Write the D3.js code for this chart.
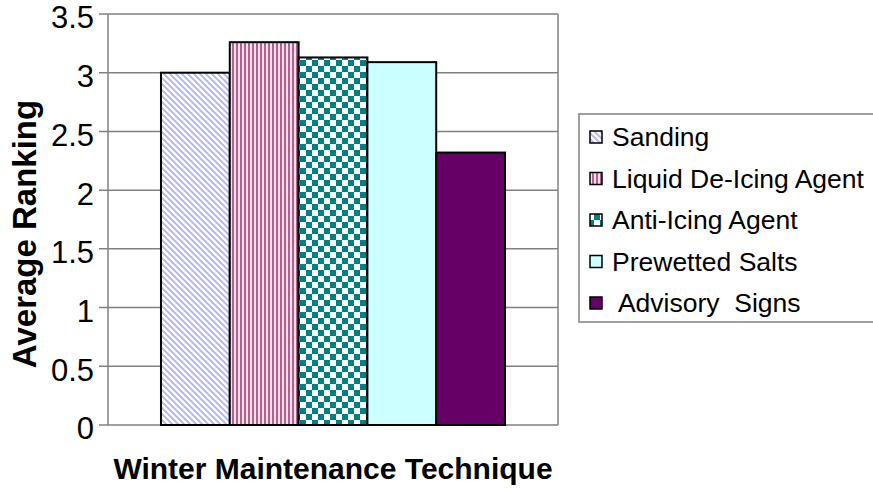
<!DOCTYPE html>
<html>
<head>
<meta charset="utf-8">
<script src="https://cdn.jsdelivr.net/npm/d3@7"></script>
<style>
  body { margin: 0; background: #fff; }
  text { font-family: Arial, "Liberation Sans", sans-serif; }
</style>
</head>
<body>
<div id="chart"></div>
<script>
// data
var categories = ["Sanding", "Liquid De-Icing Agent", "Anti-Icing Agent", "Prewetted Salts", " Advisory  Signs"];
var values = [3.0, 3.26, 3.13, 3.09, 2.32];
var yTicks = [0, 0.5, 1, 1.5, 2, 2.5, 3, 3.5];

var W = 873, H = 490;
var plot = {left: 108, right: 558, top: 14, bottom: 425};

var svg = d3.select("#chart").append("svg")
    .attr("width", W)
    .attr("height", H);

var defs = svg.append("defs");

// sanding - light blue diagonal hatch
var p0 = defs.append("pattern").attr("id", "pat0")
    .attr("patternUnits", "userSpaceOnUse").attr("width", 6).attr("height", 6);
p0.append("rect").attr("width", 6).attr("height", 6).attr("fill", "#fff");
p0.append("path").attr("d", "M-1,-1 L7,7 M-1,5 L1,7 M5,-1 L7,1")
    .attr("stroke", "#b0b0ff").attr("stroke-width", 1.8);

// liquid - vertical stripes
var p1 = defs.append("pattern").attr("id", "pat1")
    .attr("patternUnits", "userSpaceOnUse").attr("width", 4).attr("height", 4);
p1.append("rect").attr("width", 4).attr("height", 4).attr("fill", "#f5e0ec");
p1.append("rect").attr("width", 2).attr("height", 4).attr("fill", "#b0628f");

// anti-icing - checkerboard
var p2 = defs.append("pattern").attr("id", "pat2")
    .attr("patternUnits", "userSpaceOnUse").attr("width", 12).attr("height", 12);
p2.append("rect").attr("width", 12).attr("height", 12).attr("fill", "#fff");
p2.append("rect").attr("width", 6).attr("height", 6).attr("fill", "#008080");
p2.append("rect").attr("x", 6).attr("y", 6).attr("width", 6).attr("height", 6).attr("fill", "#008080");

var fills = ["url(#pat0)", "url(#pat1)", "url(#pat2)", "#ccffff", "#660066"];

var y = d3.scaleLinear().domain([0, 3.5]).range([plot.bottom, plot.top]);
var x = d3.scaleBand().domain(categories)
    .range([plot.left, plot.right])
    .paddingInner(0).paddingOuter(0.77);

// grid lines
svg.append("g").selectAll("line")
    .data(yTicks)
    .enter().append("line")
    .attr("x1", plot.left - 9).attr("x2", plot.right)
    .attr("y1", function(d) { return y(d); })
    .attr("y2", function(d) { return y(d); })
    .attr("stroke", "#808080").attr("stroke-width", 1.5);

// frame
svg.append("line").attr("x1", plot.left).attr("x2", plot.left)
    .attr("y1", plot.top).attr("y2", plot.bottom)
    .attr("stroke", "#808080").attr("stroke-width", 1.5);
svg.append("line").attr("x1", plot.right).attr("x2", plot.right)
    .attr("y1", plot.top).attr("y2", plot.bottom)
    .attr("stroke", "#808080").attr("stroke-width", 1.5);

// y tick labels
var yAxis = d3.axisLeft(y).tickValues(yTicks).tickSize(0).tickPadding(14)
    .tickFormat(function(d) { return String(d); });
var ga = svg.append("g").attr("transform", "translate(" + plot.left + ",4)").call(yAxis);
ga.select(".domain").remove();
ga.selectAll("text").attr("font-size", 31).attr("fill", "#000")
    .style("font-family", "Arial, 'Liberation Sans', sans-serif");

// bars
svg.append("g").selectAll("rect")
    .data(values)
    .enter().append("rect")
    .attr("x", function(d, i) { return x(categories[i]); })
    .attr("width", x.bandwidth())
    .attr("y", function(d) { return y(d); })
    .attr("height", function(d) { return y(0) - y(d); })
    .attr("fill", function(d, i) { return fills[i]; })
    .attr("stroke", "#000").attr("stroke-width", 2);

// axis titles
svg.append("text")
    .attr("x", (plot.left + plot.right) / 2).attr("y", 479)
    .attr("text-anchor", "middle").attr("font-weight", "bold").attr("font-size", 30)
    .text("Winter Maintenance Technique");

svg.append("text")
    .attr("transform", "translate(36,234) rotate(-90)")
    .attr("text-anchor", "middle").attr("font-weight", "bold").attr("font-size", 33)
    .text("Average Ranking");

// legend
var lg = svg.append("g");
lg.append("rect").attr("x", 579).attr("y", 114).attr("width", 310).attr("height", 208)
    .attr("fill", "#fff").attr("stroke", "#808080").attr("stroke-width", 1.5);

var items = lg.selectAll(".item")
    .data(categories)
    .enter().append("g")
    .attr("class", "item")
    .attr("transform", function(d, i) { return "translate(0," + (137 + i * 41.5) + ")"; });

items.append("rect")
    .attr("x", 590).attr("y", -6).attr("width", 12).attr("height", 12)
    .attr("fill", function(d, i) { return fills[i]; })
    .attr("stroke", "#000").attr("stroke-width", 1.5);

items.append("text")
    .attr("x", 612).attr("dy", "0.35em")
    .attr("font-size", 26.5)
    .style("white-space", "pre")
    .text(function(d) { return d; });
</script>
</body>
</html>
